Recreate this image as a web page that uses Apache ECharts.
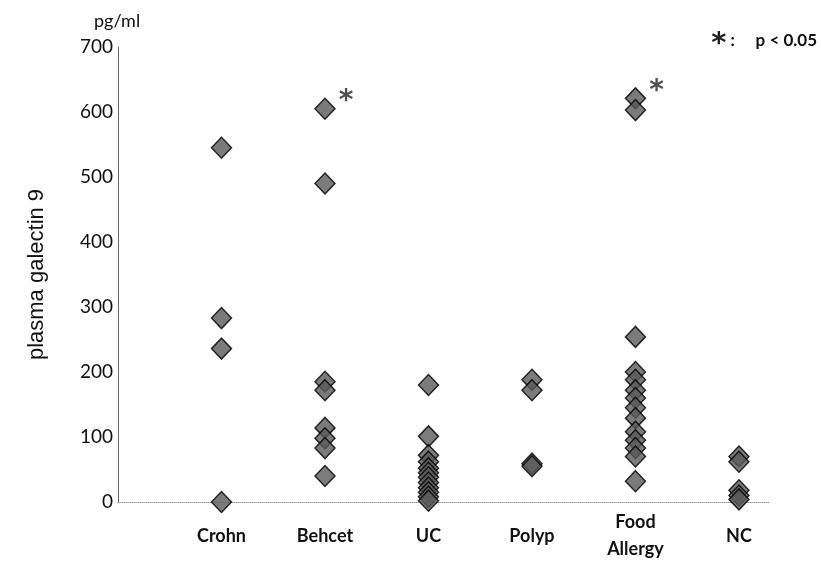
<!DOCTYPE html>
<html>
<head>
<meta charset="utf-8">
<title>plasma galectin 9</title>
<script src="https://cdn.jsdelivr.net/npm/echarts@6/dist/echarts.min.js"></script>
<style>
  html, body { margin: 0; padding: 0; background: #fff; }
  #chart { width: 821px; height: 563px; }
</style>
</head>
<body>
<div id="chart"></div>
<script>
// Patient groups along the x axis
const categories = ['Crohn', 'Behcet', 'UC', 'Polyp', 'Food\nAllergy', 'NC'];

// Plasma galectin 9 per subject (pg/ml)
const crohn = [545, 283, 236, 0];
const behcet = [605, 490, 185, 172, 114, 98, 83, 40];
const uc = [180, 101, 72, 62, 52, 45, 38, 30, 22, 15, 8, 2];
const polyp = [188, 172, 59, 55];
const foodAllergy = [621, 603, 254, 200, 188, 172, 160, 145, 129, 108, 95, 83, 70, 32];
const nc = [70, 62, 18, 10, 4];

// Groups marked significant (index into categories, value of top point)
const significant = [[1, 605], [4, 621]];

const yTicks = [0, 100, 200, 300, 400, 500, 600, 700];

const groups = [crohn, behcet, uc, polyp, foodAllergy, nc];
const points = [];
groups.forEach((vals, i) => vals.forEach(v => points.push([i + 1, v])));

const chart = echarts.init(document.getElementById('chart'), null, { renderer: 'canvas' });
chart.setOption({
  backgroundColor: '#fff',
  animation: false,
  title: {
    text: 'pg/ml',
    left: 89, top: 7,
    textStyle: { fontFamily: 'Lato', fontSize: 18, fontWeight: 'normal', color: '#111' }
  },
  graphic: [{
    type: 'text',
    right: 4, top: 30,
    style: {
      text: '{a|*}{b| :     p < 0.05}',
      rich: {
        a: { font: 'bold 29px "DejaVu Sans"', fill: '#222', verticalAlign: 'top', padding: [7, 0, 0, 0] },
        b: { font: 'bold 17px Lato', fill: '#111' }
      }
    }
  }],
  grid: { left: 118, right: 51, top: 47, bottom: 61 },
  xAxis: {
    type: 'value',
    min: 0, max: 6.3, interval: 1,
    splitLine: { show: false },
    axisTick: { show: false },
    axisLine: { show: true, lineStyle: { color: '#999', type: 'dotted', width: 1 } },
    axisLabel: {
      showMaxLabel: false,
      margin: 34,
      verticalAlign: 'middle',
      lineHeight: 27,
      fontFamily: 'Lato', fontWeight: 'bold', fontSize: 18, color: '#111',
      formatter: v => categories[v - 1] || ''
    }
  },
  yAxis: {
    type: 'value',
    min: yTicks[0], max: yTicks[yTicks.length - 1], interval: 100,
    name: 'plasma galectin 9',
    nameLocation: 'middle',
    nameRotate: 90,
    nameGap: 70,
    nameTextStyle: { fontFamily: 'Liberation Sans', fontSize: 22, color: '#111' },
    splitLine: { show: false },
    axisTick: { show: false },
    axisLine: { show: true, lineStyle: { color: '#666', width: 1 } },
    axisLabel: { margin: 5, fontFamily: 'Lato', fontSize: 19, color: '#111' }
  },
  series: [{
    type: 'scatter',
    data: points,
    symbol: 'diamond',
    symbolSize: [20, 21],
    itemStyle: { color: '#5a5a5a', borderColor: '#000', borderWidth: 1.5 }
  }, {
    type: 'scatter',
    data: significant.map(s => [s[0] + 1, s[1]]),
    symbolSize: 0,
    silent: true,
    label: {
      show: true,
      formatter: '*',
      position: 'inside',
      offset: [21, -7],
      fontFamily: 'DejaVu Sans', fontWeight: 'bold', fontSize: 28, color: '#222'
    }
  }]
});
</script>
</body>
</html>
